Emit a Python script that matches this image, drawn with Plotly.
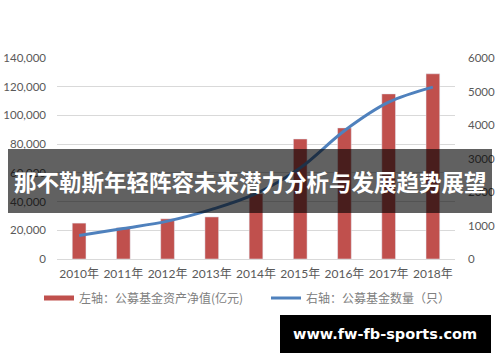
import plotly.graph_objects as go

years = ['2010年', '2011年', '2012年', '2013年', '2014年', '2015年', '2016年', '2017年', '2018年']
net_assets = [25000, 21800, 28000, 29300, 45500, 83600, 91300, 115000, 129000]
fund_counts = [700, 910, 1130, 1480, 1950, 2720, 3830, 4680, 5130]
bar_name = '左轴：公募基金资产净值(亿元)'
line_name = '右轴：公募基金数量（只）'
banner_text = '那不勒斯年轻阵容未来潜力分析与发展趋势展望'
watermark = 'www.fw-fb-sports.com'

W, H = 500, 362
L, R, T, B = 57, 455, 58, 259

def px(x):
    return (x - L) / (R - L)

def py(y):
    return (B - y) / (B - T)

RED = '#C0504D'
BLUE = '#4F81BD'
TICK = '#595959'
LEG_FONT = dict(size=12, family='Noto Sans CJK SC', color='#808080')

fig = go.Figure()
fig.add_trace(go.Bar(x=years, y=net_assets, marker_color=RED, width=0.31,
                     showlegend=False, yaxis='y'))
fig.add_trace(go.Scatter(x=years, y=fund_counts, mode='lines', line=dict(color=BLUE, width=3, shape='spline'),
                         showlegend=False, yaxis='y2'))
# legend proxies
fig.add_trace(go.Scatter(x=[None], y=[None], mode='lines', line=dict(color=RED, width=5), name=bar_name,
                         legend='legend'))
fig.add_trace(go.Scatter(x=[None], y=[None], mode='lines', line=dict(color=BLUE, width=3), name=line_name,
                         yaxis='y2', legend='legend2'))

fig.update_layout(
    width=W, height=H,
    margin=dict(l=L, r=W - R, t=T, b=H - B, autoexpand=False),
    paper_bgcolor='white', plot_bgcolor='white',
    font=dict(family='Lato, Noto Sans CJK SC', color=TICK, size=11),
    xaxis=dict(type='category', showgrid=False, showline=True, linecolor='#d9d9d9', linewidth=1,
               ticks='', tickangle=0, automargin=False,
               tickfont=dict(size=12, family='Lato, Noto Sans CJK SC', color=TICK),
               ticklabelstandoff=4),
    yaxis=dict(range=[0, 140000], dtick=20000, tickformat=',d', showgrid=True, gridcolor='#d9d9d9',
               gridwidth=1, zeroline=False, ticks='', automargin=False,
               tickfont=dict(size=11.5, color=TICK), ticklabelstandoff=10),
    yaxis2=dict(range=[0, 6000], dtick=1000, tickformat='d', overlaying='y', side='right', showgrid=False,
                zeroline=False, ticks='', automargin=False,
                tickfont=dict(size=11.5, color=TICK), ticklabelstandoff=12),
    legend=dict(orientation='h', x=px(39), y=py(298), xanchor='left', yanchor='middle',
                font=LEG_FONT, itemwidth=30, bgcolor='rgba(0,0,0,0)'),
    legend2=dict(orientation='h', x=px(266), y=py(298), xanchor='left', yanchor='middle',
                 font=LEG_FONT, itemwidth=30, bgcolor='rgba(0,0,0,0)'),
    showlegend=True,
)

shapes = [
    dict(type='rect', xref='paper', yref='paper', x0=px(8), x1=px(492), y0=py(213), y1=py(149),
         fillcolor='rgba(0,0,0,0.62)', line=dict(width=0), layer='above'),
    dict(type='rect', xref='paper', yref='paper', x0=px(280), x1=px(491), y0=py(353), y1=py(315),
         fillcolor='black', line=dict(width=0), layer='above'),
]
fig.update_layout(shapes=shapes)
fig.add_annotation(text='<b>' + banner_text + '</b>', xref='paper', yref='paper', x=px(250), y=py(181),
                   showarrow=False, xanchor='center', yanchor='middle',
                   font=dict(size=22.5, color='white', family='Noto Sans CJK SC'))
fig.add_annotation(text='<b>' + watermark + '</b>', xref='paper', yref='paper', x=px(385), y=py(334),
                   showarrow=False, xanchor='center', yanchor='middle',
                   font=dict(size=14.5, color='white', family='DejaVu Sans'))

fig.write_html('out.html')
